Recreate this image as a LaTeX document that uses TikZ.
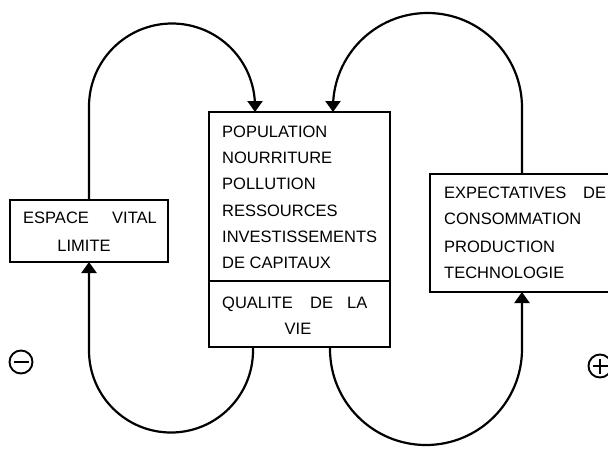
\documentclass[tikz,border=0pt]{standalone}
\usepackage{fontspec}
\setmainfont{Liberation Sans}
\usetikzlibrary{arrows.meta}
\tikzset{
  box/.style={draw, line width=2.3pt, inner sep=0pt, outer sep=0pt},
  arr/.style={line width=2.2pt, -{Triangle[width=15pt,length=11pt]}},
  txt/.style={anchor=base west, inner sep=0pt, font=\fontsize{16.5}{18}\selectfont},
  txtc/.style={anchor=base, inner sep=0pt, font=\fontsize{16.5}{18}\selectfont},
  sign/.style={draw, circle, line width=1.9pt, minimum size=23pt, inner sep=0pt}
}
\begin{document}
\begin{tikzpicture}[x=1pt,y=-1pt]
\useasboundingbox (0,0) rectangle (608,448);
\clip (0,0) rectangle (608,448);
% boxes
\node[box, minimum width=158pt, minimum height=62pt] (lbox) at (89,231) {};
\node[box, minimum width=181pt, minimum height=169pt] (ctop) at (299.5,196.5) {};
\node[box, minimum width=181pt, minimum height=66pt] (cbot) at (299.5,314) {};
\node[box, minimum width=184pt, minimum height=118pt] (rbox) at (522,233) {};
% texts central
\node[txt] (t1) at (222,137) {POPULATION};
\node[txt] (t2) at (222,163) {NOURRITURE};
\node[txt] (t3) at (222,189) {POLLUTION};
\node[txt] (t4) at (222,216) {RESSOURCES};
\node[txt] (t5) at (222,242) {INVESTISSEMENTS};
\node[txt] (t6) at (222,268) {DE CAPITAUX};
\node[txt] (q1) at (222,308) {QUALITE};
\node[txt] (q2) at (310,308) {DE};
\node[txt] (q3) at (347,308) {LA};
\node[txtc] (q4) at (298,334) {VIE};
% left texts
\node[txt] (e1) at (23,223) {ESPACE};
\node[txt] (e2) at (112,223) {VITAL};
\node[txtc] (e3) at (84,251) {LIMITE};
% right texts
\node[txt] (r1) at (444,198) {EXPECTATIVES};
\node[txt] (r1b) at (583,198) {DE};
\node[txt] (r2) at (444,224) {CONSOMMATION};
\node[txt] (r3) at (444,252) {PRODUCTION};
\node[txt] (r4) at (444,278) {TECHNOLOGIE};
% connector ends on the central box
\coordinate (ctl) at ([xshift=-44.5pt]ctop.north);
\coordinate (ctr) at ([xshift=33.5pt]ctop.north);
\coordinate (cbl) at ([xshift=-46.5pt]cbot.south);
\coordinate (cbr) at ([xshift=30.5pt]cbot.south);
% loops
\draw[arr] (lbox.north) -- (89,106.5) arc[start angle=180, end angle=360, radius=83] -- (ctl);
\draw[arr] (rbox.north) -- (522,107.5) arc[start angle=0, end angle=-180, radius=94.5] -- (ctr);
\draw[arr] (cbl) -- (253,350.5) arc[start angle=0, end angle=180, radius=82] -- (lbox.south);
\draw[arr] (cbr) -- (330,349) arc[start angle=180, end angle=0, radius=96] -- (rbox.south);
% signs
\node[sign] (minus) at (21,362) {};
\draw[line width=1.9pt] ([xshift=-7.5pt]minus.center) -- ([xshift=7.5pt]minus.center);
\node[sign] (plus) at (600,366) {};
\draw[line width=1.9pt] ([xshift=-7.5pt]plus.center) -- ([xshift=7.5pt]plus.center);
\draw[line width=1.9pt] ([yshift=-7.5pt]plus.center) -- ([yshift=7.5pt]plus.center);
\end{tikzpicture}
\end{document}
